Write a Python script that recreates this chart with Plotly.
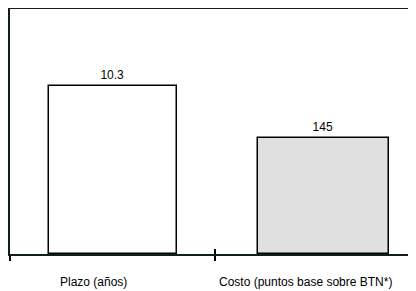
import plotly.graph_objects as go

categories = ["Plazo (años)", "Costo (puntos base sobre BTN*)"]
plazo_value = [10.3]
costo_value = [145]
bar_labels = ["10.3", "145"]

FONT = dict(family="Liberation Sans, Arial", size=12, color="black")

fig = go.Figure()
fig.add_trace(go.Bar(
    x=[0.5], y=plazo_value, width=0.625, offset=-0.31,
    marker=dict(color="white", line=dict(color="black", width=1.5)),
    text=[bar_labels[0]], textposition="outside", textfont=FONT,
    cliponaxis=False, yaxis="y", showlegend=False,
))
fig.add_trace(go.Bar(
    x=[1.5], y=costo_value, width=0.64, offset=-0.29,
    marker=dict(color="#e0e0e0", line=dict(color="black", width=1.5)),
    text=[bar_labels[1]], textposition="outside", textfont=FONT,
    cliponaxis=False, yaxis="y2", showlegend=False,
))

annotations = []
for i, (cat, shift) in enumerate(zip(categories, [-19, -12])):
    annotations.append(dict(
        x=i + 0.5, y=0, xref="x", yref="paper", text=cat, showarrow=False,
        yshift=-28, xshift=shift, xanchor="center", yanchor="middle", font=FONT,
    ))

fig.update_layout(
    width=408, height=283,
    margin=dict(l=2, r=0, t=1, b=37),
    paper_bgcolor="white", plot_bgcolor="white",
    bargap=0,
    xaxis=dict(range=[0, 1.98], tickvals=[0, 1], ticks="outside", ticklen=5,
               tickcolor="black", tickwidth=1.5, showticklabels=False,
               showline=True, linecolor="#0f1f1f", linewidth=2, mirror=True,
               showgrid=False, zeroline=False, fixedrange=True),
    xaxis2=dict(range=[0, 1.98], overlaying="x", tickvals=[1], ticks="inside",
                ticklen=5, tickcolor="black", tickwidth=1.5, showticklabels=False,
                showline=False, showgrid=False, zeroline=False, side="bottom",
                anchor="y"),
    yaxis=dict(range=[0, 15], showline=True, linecolor="#0f1f1f", linewidth=2,
               showticklabels=False, ticks="", showgrid=False, zeroline=False),
    yaxis2=dict(range=[0, 305], overlaying="y", showline=False,
                showticklabels=False, ticks="", showgrid=False, zeroline=False),
    annotations=annotations,
)
# invisible trace so that the overlaid axis draws its inner tick
fig.add_trace(go.Scatter(x=[1], y=[0], xaxis="x2", yaxis="y", mode="markers",
                         marker=dict(opacity=0), showlegend=False, hoverinfo="skip"))

fig.write_html("out.html")
